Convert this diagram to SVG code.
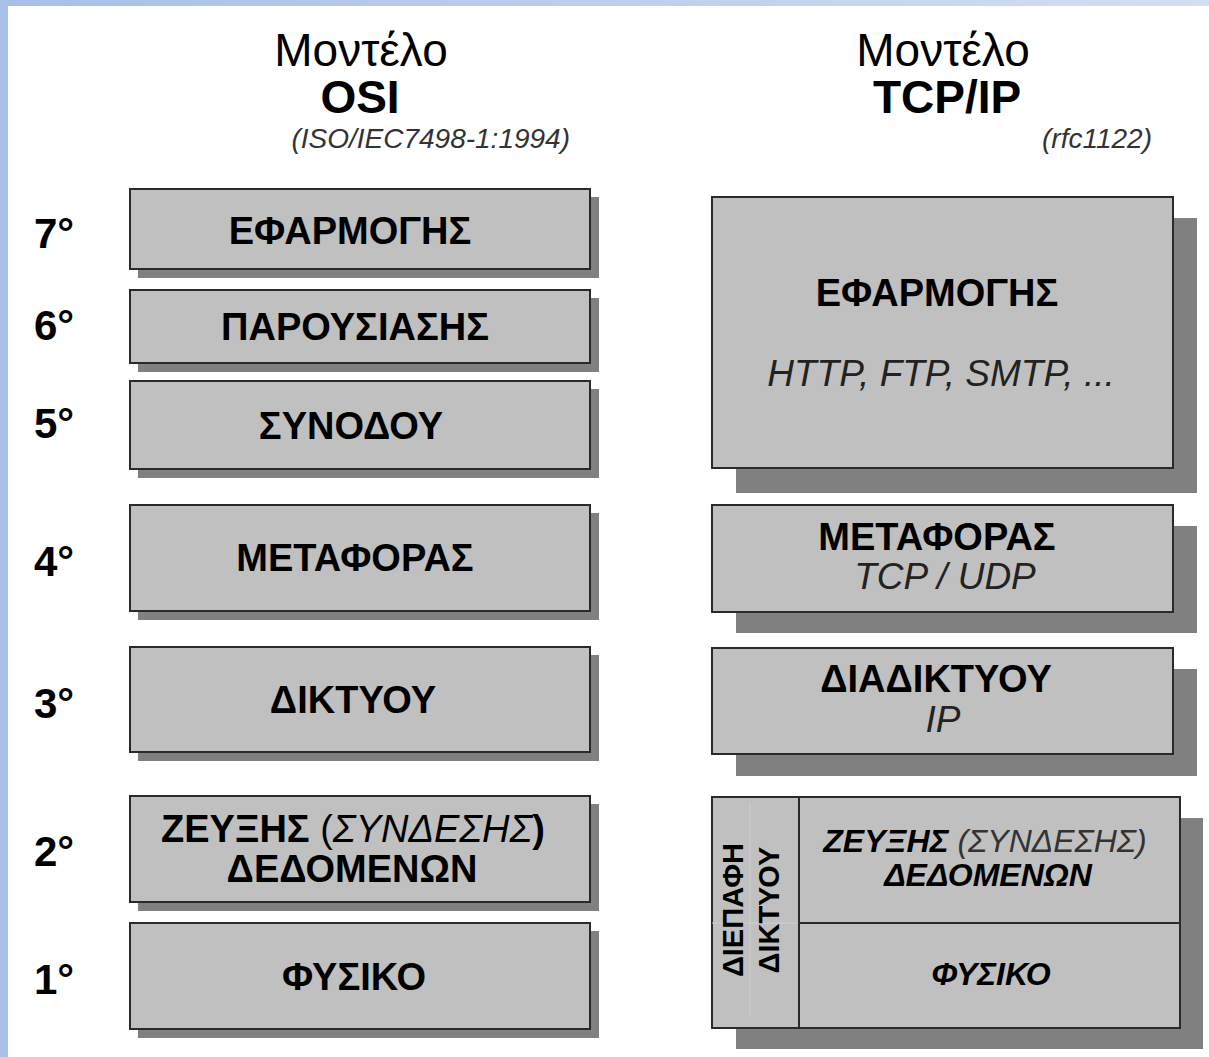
<svg xmlns="http://www.w3.org/2000/svg" width="1209" height="1057" viewBox="0 0 1209 1057">
<defs>
<linearGradient id="topg" x1="0" y1="0" x2="1" y2="0">
<stop offset="0" stop-color="#a8bfe8"/>
<stop offset="1" stop-color="#d3def3"/>
</linearGradient>
</defs>
<style>
text{font-family:"Liberation Sans",Arial,sans-serif;fill:#000}
.box{fill:#c0c0c0;stroke:#2a2a2a;stroke-width:2}
.sh{fill:#808080}
.b{font-weight:bold}
.lbl{font-size:38px;font-weight:bold;text-anchor:middle}
.itl{font-size:37px;font-style:italic;font-weight:normal;text-anchor:middle;fill:#222}
.num{font-size:42px;font-weight:bold}
.hdr{font-size:46px;text-anchor:middle}
.sub{font-size:28px;font-style:italic;fill:#333}
.nif{font-size:32px;font-style:italic;text-anchor:middle}
.div{stroke:#2a2a2a;stroke-width:2;fill:none}
.faint{stroke:#cfcfcf;stroke-width:1;fill:none}
</style>
<rect x="0" y="0" width="1209" height="1057" fill="#ffffff"/>
<rect x="0" y="0" width="1209" height="6" fill="url(#topg)"/>
<rect x="0" y="0" width="8" height="1057" fill="#a9c0e8"/>

<g id="headers">
<text class="hdr" x="361" y="66">Μοντέλο</text>
<text class="hdr b" x="360" y="113">OSI</text>
<text class="sub" x="570" y="148" text-anchor="end">(ISO/IEC7498-1:1994)</text>
<text class="hdr" x="943" y="66">Μοντέλο</text>
<text class="hdr b" x="947" y="113">TCP/IP</text>
<text class="sub" x="1152" y="148" text-anchor="end">(rfc1122)</text>
</g>

<g id="layer-numbers">
<text class="num" x="34" y="248">7°</text>
<text class="num" x="34" y="340">6°</text>
<text class="num" x="34" y="438">5°</text>
<text class="num" x="34" y="576">4°</text>
<text class="num" x="34" y="718">3°</text>
<text class="num" x="34" y="866">2°</text>
<text class="num" x="34" y="994">1°</text>
</g>

<g id="osi7">
<rect class="sh" x="138" y="197" width="461" height="81"/>
<rect class="box" x="130" y="189" width="460" height="80"/>
<text class="lbl" x="350" y="244">ΕΦΑΡΜΟΓΗΣ</text>
</g>
<g id="osi6">
<rect class="sh" x="138" y="298" width="461" height="74"/>
<rect class="box" x="130" y="290" width="460" height="73"/>
<text class="lbl" x="355" y="340">ΠΑΡΟΥΣΙΑΣΗΣ</text>
</g>
<g id="osi5">
<rect class="sh" x="138" y="389" width="461" height="89"/>
<rect class="box" x="130" y="381" width="460" height="88"/>
<text class="lbl" x="351" y="439">ΣΥΝΟΔΟΥ</text>
</g>
<g id="osi4">
<rect class="sh" x="138" y="513" width="461" height="107"/>
<rect class="box" x="130" y="505" width="460" height="106"/>
<text class="lbl" x="355" y="571">ΜΕΤΑΦΟΡΑΣ</text>
</g>
<g id="osi3">
<rect class="sh" x="138" y="655" width="461" height="106"/>
<rect class="box" x="130" y="647" width="460" height="105"/>
<text class="lbl" x="353" y="713">ΔΙΚΤΥΟΥ</text>
</g>
<g id="osi2">
<rect class="sh" x="138" y="804" width="461" height="107"/>
<rect class="box" x="130" y="796" width="460" height="106"/>
<text class="lbl" x="353" y="842" font-size="36">ΖΕΥΞΗΣ <tspan font-weight="normal">(</tspan><tspan font-weight="normal" font-style="italic">ΣΥΝΔΕΣΗΣ</tspan>)</text>
<text class="lbl" x="352" y="882" font-size="36">ΔΕΔΟΜΕΝΩΝ</text>
</g>
<g id="osi1">
<rect class="sh" x="138" y="931" width="461" height="107"/>
<rect class="box" x="130" y="923" width="460" height="106"/>
<text class="lbl" x="354" y="990">ΦΥΣΙΚΟ</text>
</g>

<g id="tcp-app">
<rect class="sh" x="736" y="218" width="461" height="275"/>
<rect class="box" x="712" y="197" width="461" height="271"/>
<text class="lbl" x="937" y="306">ΕΦΑΡΜΟΓΗΣ</text>
<text class="itl" x="941" y="386">HTTP, FTP, SMTP, ...</text>
</g>
<g id="tcp-transport">
<rect class="sh" x="736" y="526" width="461" height="107"/>
<rect class="box" x="712" y="505" width="461" height="107"/>
<text class="lbl" x="937" y="550">ΜΕΤΑΦΟΡΑΣ</text>
<text class="itl" x="945" y="589">TCP / UDP</text>
</g>
<g id="tcp-internet">
<rect class="sh" x="736" y="669" width="461" height="107"/>
<rect class="box" x="712" y="648" width="461" height="106"/>
<text class="lbl" x="936" y="692">ΔΙΑΔΙΚΤΥΟΥ</text>
<text class="itl" x="943" y="732">IP</text>
</g>
<g id="tcp-netif">
<rect class="sh" x="736" y="818" width="467" height="231"/>
<rect class="box" x="712" y="797" width="468" height="231"/>
<line class="faint" x1="750" y1="803" x2="750" y2="1015"/>
<line class="faint" x1="712" y1="923" x2="799" y2="923"/>
<line class="div" x1="799" y1="797" x2="799" y2="1028"/>
<line class="div" x1="799" y1="923" x2="1180" y2="923"/>
<text class="b" font-size="29" text-anchor="middle" transform="translate(743,910) rotate(-90)">ΔΙΕΠΑΦΗ</text>
<text class="b" font-size="29" text-anchor="middle" transform="translate(779,910) rotate(-90)">ΔΙΚΤΥΟΥ</text>
<text class="nif" x="985" y="852"><tspan font-weight="bold">ΖΕΥΞΗΣ</tspan> <tspan fill="#333">(ΣΥΝΔΕΣΗΣ)</tspan></text>
<text class="nif b" x="988" y="886">ΔΕΔΟΜΕΝΩΝ</text>
<text class="nif b" x="991" y="985">ΦΥΣΙΚΟ</text>
</g>

<g id="connectors"></g>
</svg>
